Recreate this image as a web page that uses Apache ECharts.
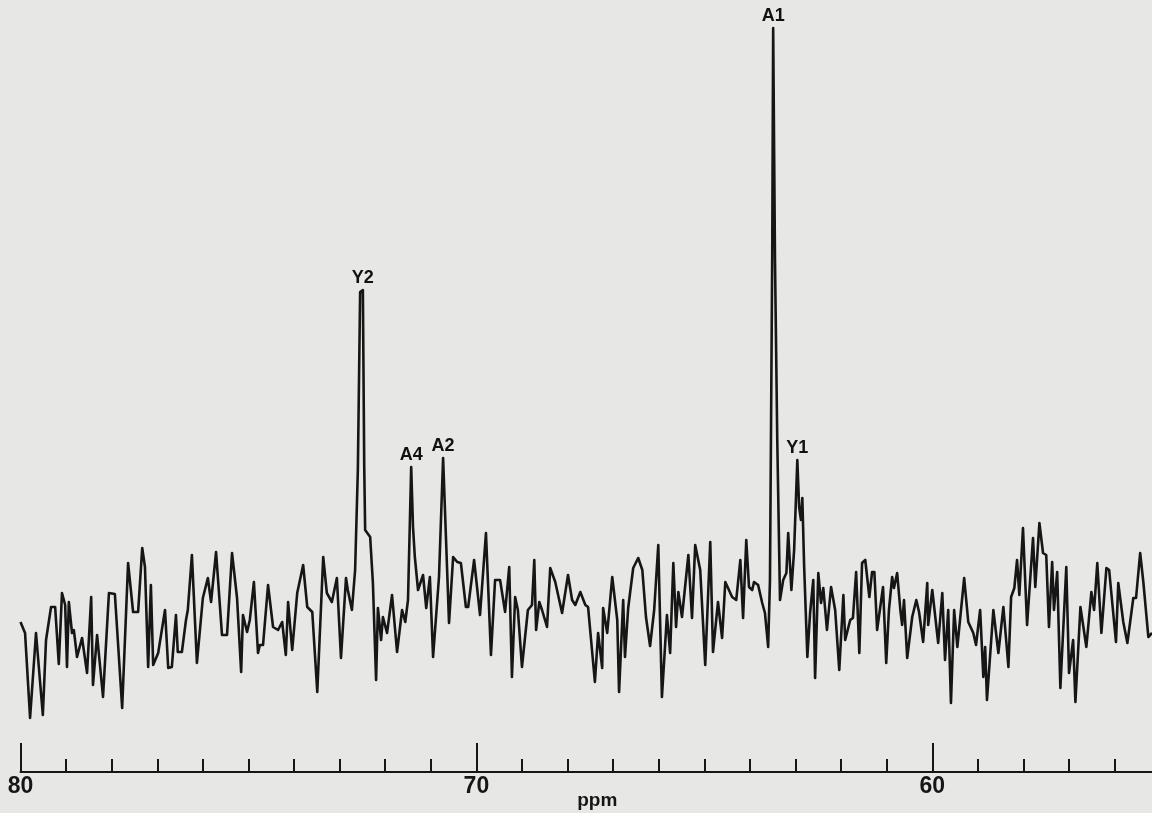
<!DOCTYPE html>
<html>
<head>
<meta charset="utf-8">
<title>13C NMR spectrum</title>
<script src="https://cdn.jsdelivr.net/npm/echarts@6/dist/echarts.min.js"></script>
<style>
  html, body { margin: 0; padding: 0; background: #e7e7e6; }
  #chart { width: 1152px; height: 813px; }
</style>
</head>
<body>
<div id="chart"></div>
<script>
// Chemical shift (ppm) of each sampled point of the trace, high field to the right
const shiftPpm = [
  80.00,79.90,79.79,79.66,79.51,79.44,79.33,79.24,79.16,79.09,79.02,78.98,78.94,78.87,78.83,78.76,78.65,78.54,78.45,78.41,
  78.32,78.19,78.06,77.93,77.77,77.64,77.53,77.42,77.33,77.27,
  77.20,77.14,77.09,76.98,76.83,76.76,76.68,76.59,76.55,76.46,76.37,76.33,76.24,76.13,76.00,75.89,75.82,75.78,75.71,75.58,
  75.47,75.36,75.25,75.16,75.12,75.03,74.97,74.88,74.79,74.75,74.68,74.57,74.46,74.35,74.26,74.18,74.13,
  74.04,73.93,73.80,73.71,73.60,73.49,73.36,73.28,73.17,73.06,72.97,72.86,72.82,72.73,72.66,72.60,72.55,72.49,72.46,72.44,
  72.33,72.27,72.20,72.16,72.09,72.05,71.96,71.85,71.74,71.63,71.56,71.50,71.43,71.39,71.35,71.28,71.17,71.10,71.02,70.95,
  70.82,70.73,70.60,70.51,70.42,70.34,70.23,70.18,70.05,69.92,69.79,69.68,69.59,69.48,69.37,69.28,69.22,69.15,69.09,69.00,
  68.87,68.78,68.73,68.69,68.62,68.56,68.45,68.38,68.27,68.12,67.99,67.90,67.83,67.72,
  67.61,67.55,67.40,67.33,67.24,67.22,67.13,67.02,66.91,66.87,66.78,66.74,66.67,66.56,66.45,66.36,66.28,66.19,66.10,66.01,
  65.93,65.82,65.75,65.68,65.62,65.57,65.49,65.35,65.27,65.20,65.09,64.98,64.87,64.81,64.70,64.61,64.54,
  64.39,64.30,64.21,64.15,64.08,64.02,63.95,63.91,63.82,63.73,63.67,63.60,63.56,
  63.51,63.49,63.45,63.40,63.34,
  63.27,63.20,63.16,63.09,63.03,62.96,62.92,62.88,62.85,62.81,62.74,62.68,62.61,62.57,62.50,62.44,62.39,62.31,62.22,62.13,
  62.04,61.95,61.91,61.80,61.74,61.67,61.60,61.54,61.47,61.38,
  61.32,61.27,61.21,61.08,61.01,60.95,60.88,60.84,60.77,60.70,60.66,60.62,60.55,60.44,60.35,60.29,60.20,60.11,60.09,60.00,
  59.96,59.87,59.78,59.72,59.65,59.59,59.52,59.45,59.30,59.21,59.10,59.04,58.95,58.88,58.84,58.80,58.66,58.55,58.44,58.33,
  58.27,58.20,58.14,
  58.09,58.01,57.92,57.79,57.74,57.65,57.57,57.50,57.44,57.37,57.33,57.26,57.19,57.06,57.00,56.91,56.86,56.75,56.62,56.51,
  56.45,56.38,56.29,56.18,56.12,55.97,55.92,55.81,55.72,55.59,55.53,55.44,55.37,55.26,55.18
];

// Signal intensity (arbitrary units) at each shift above
const intensity = [
  150,139,54,139,57,132,165,165,108,179,167,105,170,139,142,115,134,99,175,87,
  137,75,179,178,64,209,160,160,224,205,
  105,187,107,119,162,104,105,157,120,120,152,162,217,109,174,194,170,170,220,137,
  137,219,174,100,157,140,152,190,119,127,127,187,145,142,150,117,170,
  122,179,207,165,160,80,215,179,170,194,114,194,182,162,202,302,480,482,305,242,
  235,189,92,164,132,155,139,177,120,162,150,172,305,245,215,182,197,164,195,115,
  195,314,149,215,210,209,165,165,212,157,239,117,192,192,160,205,95,175,162,105,
  162,167,212,142,170,162,145,204,190,159,197,172,167,180,
  167,165,90,139,104,164,139,195,152,80,172,115,164,204,214,202,155,126,162,227,
  75,157,119,209,145,180,155,217,154,227,202,107,230,120,170,134,190,
  175,172,212,154,232,185,182,190,187,169,159,125,192,
  522,744,512,332,172,
  192,199,239,182,222,312,265,252,274,205,115,159,192,94,199,169,184,142,185,162,
  102,177,132,152,154,200,119,209,212,175,
  200,200,142,185,109,162,195,184,199,162,147,172,114,155,172,160,130,189,147,182,
  180,129,179,112,162,69,162,125,194,150,139,127,162,95,125,72,162,119,165,105,
  175,184,212,
  177,244,147,234,185,249,219,217,145,210,162,200,84,205,99,132,70,165,125,180,
  162,209,139,204,202,130,189,150,129,174,174,219,190,135,139
];

// Assigned resonances
const peakNames = ['Y2', 'A4', 'A2', 'A1', 'Y1'];
const peakShift = [72.49, 71.43, 70.73, 63.49, 62.96];
const peakHeight = [482, 305, 314, 744, 312];

// Axis scale
const minorTicks = [56,57,58,59,60,61,62,63,64,65,66,67,68,69,70,71,72,73,74,75,76,77,78,79,80];
const majorTicks = [60, 70, 80];
const shiftMin = 55.18;
const shiftMax = 80;

const ink = '#161616';
const font = '"Liberation Sans", Arial, Helvetica, sans-serif';

const spectrum = shiftPpm.map((s, i) => [s, intensity[i]]);
const peaks = peakNames.map((n, i) => ({ name: n, value: [peakShift[i], peakHeight[i]] }));

const chart = echarts.init(document.getElementById('chart'), null, { renderer: 'canvas' });

chart.setOption({
  backgroundColor: '#e7e7e6',
  animation: false,
  grid: { left: 20.5, right: 0, top: 0, bottom: 41, containLabel: false, outerBoundsMode: 'none' },
  xAxis: [
    {
      type: 'value', inverse: true, min: shiftMin, max: shiftMax,
      axisLine: { show: true, lineStyle: { color: ink, width: 2 } },
      axisTick: { show: true, inside: true, length: 13, customValues: minorTicks,
                  lineStyle: { color: ink, width: 2 } },
      axisLabel: { show: false },
      splitLine: { show: false }
    },
    {
      type: 'value', inverse: true, min: shiftMin, max: shiftMax, position: 'bottom',
      axisLine: { show: false },
      axisTick: { show: true, inside: true, length: 29, customValues: majorTicks,
                  lineStyle: { color: ink, width: 2 } },
      axisLabel: { show: true, customValues: majorTicks, margin: 3, color: ink,
                   fontFamily: font, fontWeight: 'bold', fontSize: 23 },
      splitLine: { show: false },
      name: 'ppm', nameLocation: 'middle', nameGap: 19, nameMoveOverlap: false,
      nameTextStyle: { color: ink, fontFamily: font, fontWeight: 'bold', fontSize: 19,
                       padding: [0, 0, 0, 22] }
    }
  ],
  yAxis: { type: 'value', min: 0, max: 772, show: false },
  series: [
    {
      type: 'line', data: spectrum, xAxisIndex: 0, showSymbol: false, symbol: 'none',
      lineStyle: { color: ink, width: 2.6, join: 'round' }, smooth: false
    },
    {
      type: 'scatter', data: peaks, xAxisIndex: 0, symbolSize: 0,
      itemStyle: { opacity: 1 },
      label: { show: true, position: 'top', distance: 3, formatter: '{b}', color: '#111',
               opacity: 1, fontFamily: font, fontWeight: 'bold', fontSize: 18 }
    }
  ]
});
</script>
</body>
</html>
